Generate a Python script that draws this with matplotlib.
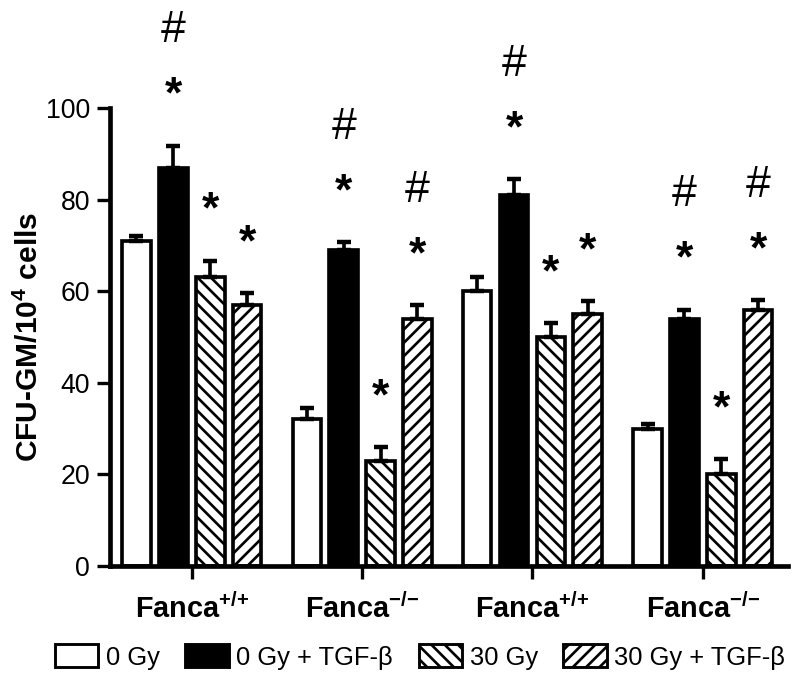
import matplotlib
matplotlib.use('Agg')
import matplotlib.pyplot as plt
import numpy as np
from matplotlib.patches import Patch

plt.rcParams['font.family'] = ['Liberation Sans', 'DejaVu Sans']
plt.rcParams['mathtext.fontset'] = 'custom'
plt.rcParams['mathtext.rm'] = 'Liberation Sans:bold'
plt.rcParams['mathtext.bf'] = 'Liberation Sans:bold'
plt.rcParams['mathtext.it'] = 'Liberation Sans:bold'
plt.rcParams['hatch.linewidth'] = 2.4

# data
groups = ['Fanca$^{{+}/{+}}$', 'Fanca$^{{-}/{-}}$', 'Fanca$^{{+}/{+}}$', 'Fanca$^{{-}/{-}}$']
series = ['0 Gy', '0 Gy + TGF-β', '30 Gy', '30 Gy + TGF-β']
gy0 = [71, 32, 60, 30]
gy0_err = [1.0, 2.6, 3.2, 1.0]
gy0_tgf = [87, 69, 81, 54]
gy0_tgf_err = [4.8, 1.7, 3.4, 2.0]
gy30 = [63, 23, 50, 20]
gy30_err = [3.7, 2.9, 3.0, 3.3]
gy30_tgf = [57, 54, 55, 56]
gy30_tgf_err = [2.6, 2.9, 2.8, 2.0]
marks_gy0 = ['', '', '', '']
marks_gy0_tgf = ['*#', '*#', '*#', '*#']
marks_gy30 = ['*', '*', '*', '*']
marks_gy30_tgf = ['*', '*#', '*', '*#']

values = [gy0, gy0_tgf, gy30, gy30_tgf]
errors = [gy0_err, gy0_tgf_err, gy30_err, gy30_tgf_err]
marks = [marks_gy0, marks_gy0_tgf, marks_gy30, marks_gy30_tgf]
fills = ['white', 'black', 'white', 'white']
hatches = [None, None, '\\\\', '//']

fig = plt.figure(figsize=(10, 8.625), dpi=80)
ax = fig.add_axes([0.1375, 0.1797, 0.8475, 0.6638])

x = np.arange(len(groups))
slot = 0.2164
width = 0.168

for i in range(4):
    xs = x + (i - 1.5) * slot
    ax.bar(xs, values[i], width, color=fills[i], edgecolor='black',
           linewidth=3.3, hatch=hatches[i], zorder=2)
    ax.errorbar(xs, values[i], yerr=[np.zeros(4), errors[i]], fmt='none',
                ecolor='black', elinewidth=3.3, capsize=6.5, capthick=4, zorder=3)
    for j in range(4):
        top = values[i][j] + errors[i][j]
        if '*' in marks[i][j]:
            ax.annotate('*', xy=(xs[j], top), xytext=(0, 34), textcoords='offset points',
                        ha='center', va='baseline', fontsize=40, fontweight='bold',
                        annotation_clip=False)
        if '#' in marks[i][j]:
            ax.annotate('#', xy=(xs[j], top), xytext=(0, 93), textcoords='offset points',
                        ha='center', va='baseline', fontsize=40, annotation_clip=False)

ax.set_xlim(-0.48, 3.5)
ax.set_ylim(0, 100)
ax.set_yticks([0, 20, 40, 60, 80, 100])
ax.set_xticks(x)
ax.set_xticklabels(groups, fontsize=26, fontweight='bold')
ax.tick_params(axis='y', labelsize=24, width=3, length=12, pad=6)
ax.tick_params(axis='x', width=3, length=12, pad=13)
ax.set_ylabel('CFU-GM/10$^4$ cells', fontsize=27, fontweight='bold', labelpad=2)

for s in ['top', 'right']:
    ax.spines[s].set_visible(False)
for s in ['left', 'bottom']:
    ax.spines[s].set_linewidth(4.2)

handles = [Patch(facecolor=fills[i], edgecolor='black', hatch=hatches[i], linewidth=2.6)
           for i in range(4)]
fig.legend(handles, series, loc='center', bbox_to_anchor=(0.525, 1 - 657 / 690),
           ncol=4, frameon=False, fontsize=23, handlelength=1.7, handleheight=1.0,
           handletextpad=0.3, columnspacing=1.0)

fig.savefig('out.png', dpi=80)
